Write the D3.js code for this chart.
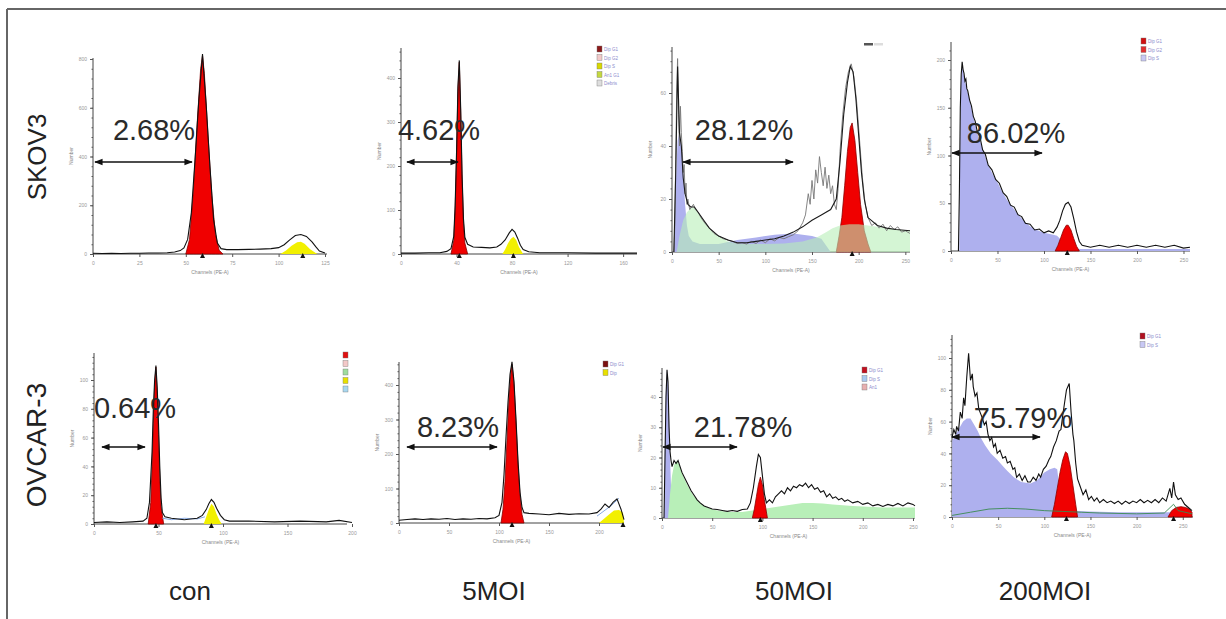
<!DOCTYPE html>
<html><head><meta charset="utf-8">
<script src="https://cdn.jsdelivr.net/npm/d3@7"></script>
<style>body{margin:0;background:#fff}svg{display:block}</style>
</head><body>
<script>
// ---------- labels ----------
const rowLabels = ["SKOV3", "OVCAR-3"];
const colLabels = ["con", "5MOI", "50MOI", "200MOI"];
const percents = ["2.68%", "4.62%", "28.12%", "86.02%", "0.64%", "8.23%", "21.78%", "75.79%"];

// ---------- tick values ----------
const xTicks1 = [0, 25, 50, 75, 100, 125];
const yTicks1 = [0, 200, 400, 600, 800];
const xTicks2 = [0, 40, 80, 120, 160];
const yTicks2 = [0, 100, 200, 300, 400];
const xTicks3 = [0, 50, 100, 150, 200, 250];
const yTicks3 = [0, 20, 40, 60];
const xTicks4 = [0, 50, 100, 150, 200, 250];
const yTicks4 = [0, 50, 100, 150, 200];
const xTicks5 = [0, 50, 100, 150, 200];
const yTicks5 = [0, 20, 40, 60, 80, 100];
const xTicks6 = [0, 50, 100, 150, 200];
const yTicks6 = [0, 100, 200, 300, 400];
const xTicks7 = [0, 50, 100, 150, 200, 250];
const yTicks7 = [0, 10, 20, 30, 40];
const xTicks8 = [0, 50, 100, 150, 200, 250];
const yTicks8 = [0, 20, 40, 60, 80, 100];

// ---------- histogram series [channel, count] ----------
// SKOV3 con
const p1Outline = [[0,3],[5,2],[10,3],[15,2],[20,3],[25,3],[30,4],[35,4],[40,5],[44,8],[47,14],[49,25],[51,60],[53,170],[55,390],[57,630],[59,820],[61,610],[63,360],[65,140],[67,45],[69,22],[72,18],[78,18],[84,19],[90,20],[96,22],[100,26],[103,38],[106,58],[109,76],[112,80],[115,72],[118,50],[120,30],[122,12],[125,4]];
const p1G1 = [[50,0],[52,60],[54,250],[56,520],[58,760],[59,815],[60,740],[62,480],[64,240],[66,80],[68,15],[70,0]];
const p1G2 = [[101,0],[104,14],[107,34],[110,48],[112,50],[114,42],[117,20],[120,4],[121,0]];
const p1Marks = [59, 113];
// SKOV3 5MOI
const p2Outline = [[0,2],[10,2],[20,3],[28,3],[33,6],[36,12],[38,40],[39,110],[40,230],[41,380],[42,440],[43,330],[44,180],[45,80],[46,38],[48,22],[52,16],[58,15],[64,14],[69,16],[72,22],[75,32],[78,48],[80,56],[82,50],[84,36],[86,20],[88,10],[92,5],[100,3],[120,3],[140,2],[170,2]];
const p2G1 = [[36,0],[38,30],[39,100],[40,220],[41,370],[42,436],[43,320],[44,170],[45,70],[46,25],[48,0]];
const p2G2 = [[73,0],[75,10],[77,24],[79,34],[81,39],[83,32],[85,16],[87,5],[88,0]];
const p2Marks = [42, 81];
// SKOV3 50MOI
const p3Raw = [[2,0],[3,10],[4,35],[5,60],[6,73],[7,52],[8,40],[9,55],[10,45],[11,38],[12,30],[13,33],[14,22],[15,26],[16,18],[17,20],[19,16],[21,17],[23,18],[25,16],[28,15],[31,13],[35,11],[40,9],[45,7],[50,6],[55,5],[60,4.5],[65,4],[70,3.2],[75,3.5],[80,3],[85,4],[90,3.2],[95,4.5],[100,3.5],[105,5],[110,4.2],[115,5.5],[120,5],[125,5.8],[130,6.5],[135,8],[140,11],[143,14],[146,22],[148,18],[150,27],[152,20],[154,31],[156,26],[158,36],[160,30],[162,25],[164,32],[166,24],[168,29],[170,22],[172,25],[174,18],[176,16],[178,24],[180,38],[183,52],[186,62],[189,68],[192,71],[195,66],[198,56],[201,42],[204,28],[207,18],[210,13],[214,10],[218,11],[222,9],[226,10.5],[230,8],[234,10],[238,8.5],[242,9.5],[246,7.5],[250,8],[255,7]];
const p3Fit = [[2,0],[4,30],[6,70],[8,45],[10,40],[12,28],[14,22],[17,18],[20,17],[24,17],[28,15],[34,12],[40,9],[50,6],[60,4.5],[70,3.5],[80,3.5],[90,4],[100,4.5],[110,5],[120,6],[130,7.5],[140,9.5],[150,12],[160,14],[170,16],[176,20],[180,34],[184,52],[188,64],[191,70],[194,68],[197,58],[200,44],[203,30],[206,20],[210,13],[220,10],[230,9],[240,8.5],[255,8]];
const p3Debris = [[2,0],[4,25],[6,42],[8,45],[10,40],[12,30],[14,18],[16,10],[18,6],[22,4],[30,3],[50,3],[70,4.5],[90,5.5],[110,6.5],[130,7],[150,6],[160,5],[170,0]];
const p3S = [[5,0],[8,6],[12,12],[16,15],[20,16.5],[24,17],[28,15],[34,12],[40,9],[50,6],[60,4],[70,3.2],[80,3],[100,3],[120,3.2],[140,4],[155,5.5],[165,7.5],[172,9],[180,10],[190,10.5],[200,10.5],[210,10],[220,9.5],[230,9],[240,8.5],[255,8]];
const p3G1 = [[176,0],[179,6],[182,13],[185,25],[188,38],[191,47],[193,48.7],[196,42],[199,30],[202,18],[206,8],[210,3],[213,0]];
const p3Marks = [193];
// SKOV3 200MOI
const p4Outline = [[8,0],[9,60],[10,150],[11,185],[12,198],[13,190],[14,186],[15,178],[16,180],[17,170],[18,168],[20,158],[22,152],[24,141],[26,136],[28,126],[31,120],[34,106],[37,101],[40,90],[44,85],[48,75],[52,71],[56,61],[60,57],[64,48],[68,46],[72,38],[76,36],[80,29],[85,28],[90,22],[95,23],[100,19],[105,21],[110,19],[114,25],[117,32],[120,42],[123,49],[126,51],[129,46],[132,34],[135,20],[138,10],[141,6],[150,4],[160,6],[170,4],[180,6],[190,4],[200,6],[210,4],[220,6],[230,4],[240,6],[250,3],[257,4]];
const p4Debris = [[9,0],[10,140],[11,180],[12,195],[13,188],[15,178],[17,170],[20,158],[24,140],[28,125],[31,116],[35,104],[40,90],[45,80],[50,72],[55,62],[60,54],[65,47],[70,41],[75,35],[80,30],[85,26],[90,23],[95,21],[100,19],[105,18],[110,17],[114,16],[118,12],[122,6],[126,3],[140,2],[160,2],[200,2],[257,2]];
const p4G1 = [[112,0],[115,6],[118,14],[121,22],[124,27],[126,27],[129,22],[132,13],[135,5],[138,0]];
const p4Marks = [125];
// OVCAR-3 con
const p5Outline = [[0,1],[10,1.5],[20,1],[30,1.5],[38,2],[41,4],[43,15],[45,50],[46,80],[47,100],[48,110],[49,95],[50,70],[51,40],[52,18],[53,8],[55,5],[60,4],[65,3.5],[70,3],[75,3.5],[80,4],[84,6],[87,10],[89,14],[91,17],[93,15],[95,11],[98,6],[101,3],[105,2],[120,2],[140,1.5],[160,2],[180,1.5],[190,2.5],[200,1]];
const p5G1 = [[42,0],[44,15],[45,40],[46,70],[47,95],[48,109],[49,90],[50,62],[51,32],[52,12],[54,0]];
const p5G2 = [[85,0],[87,5],[89,10],[91,14],[93,12],[95,7],[97,3],[99,0]];
const p5S = [[53,4],[60,3],[70,4],[80,3.5],[86,5]];
const p5Marks = [48, 91];
// OVCAR-3 5MOI
const p6Outline = [[0,8],[8,10],[16,12],[24,10],[32,12],[40,11],[48,13],[56,10],[64,12],[72,11],[80,13],[88,12],[96,15],[100,22],[103,60],[105,140],[107,250],[109,350],[111,430],[113,467],[115,410],[117,300],[119,180],[121,90],[123,45],[125,30],[130,28],[140,26],[150,24],[160,28],[170,25],[180,27],[190,26],[198,30],[202,40],[206,55],[210,45],[214,60],[218,70],[222,40],[225,10]];
const p6G1 = [[102,0],[104,40],[106,120],[108,240],[110,360],[112,440],[113,460],[115,400],[117,290],[119,170],[121,80],[123,25],[125,0]];
const p6G2 = [[200,0],[205,12],[210,25],[215,36],[220,38],[224,30],[225,0]];
const p6S = [[198,20],[205,35],[212,50],[220,72]];
const p6Marks = [113, 224];
// OVCAR-3 50MOI
const p7Outline = [[2,0],[3,20],[4,40],[5,49],[6,45],[7,30],[8,22],[9,19],[10,17],[12,19],[14,18],[16,19],[18,17],[20,15],[23,13],[26,11],[29,9],[32,7.5],[35,6],[38,5],[42,4],[46,3.5],[50,3],[55,2.8],[60,2.5],[65,2.2],[70,2.5],[75,2.2],[80,2.8],[85,3],[88,5],[91,10],[94,17],[96,21],[98,20],[100,14],[102,8],[104,5],[107,6],[110,5],[113,7],[116,8],[119,9],[122,8],[125,10],[128,9],[131,10.5],[134,10],[137,11],[140,10.5],[143,11.5],[146,10],[149,11],[152,9.5],[155,10],[158,8.5],[161,9],[164,7],[167,8],[170,6.5],[173,7],[176,6],[179,6.5],[182,5.5],[185,6],[190,5],[195,5.5],[200,4.5],[205,5],[210,4],[215,4.5],[220,3.8],[225,4.5],[230,4],[235,4.8],[240,4],[245,5],[250,4.5],[252,4]];
const p7Debris = [[2,0],[3,30],[4,45],[5,49],[6,44],[7,35],[8,20],[9,10],[10,4],[12,1],[14,0]];
const p7S = [[6,0],[8,8],[10,14],[12,17.5],[15,19],[18,17],[21,14],[25,11],[30,8],[35,6],[40,4.5],[45,3.5],[50,2.8],[60,2.2],[70,2],[80,2],[90,2.5],[100,3],[110,3.5],[120,4],[130,4.5],[140,5],[150,5],[160,4.8],[170,4.5],[180,4.2],[190,4],[200,3.8],[210,3.6],[220,3.5],[230,3.5],[240,3.5],[252,3.5]];
const p7G1 = [[90,0],[92,3],[94,7],[96,11],[98,13.5],[100,11],[102,6],[104,2],[105,0]];
const p7Marks = [98];
// OVCAR-3 200MOI
const p8Outline = [[0,50],[2,55],[4,52],[5,57],[7,54],[9,66],[11,62],[12.6,75],[14,70],[16,88],[18,103],[20,86],[22,90],[23,82],[25,76],[27,78],[29,68],[31,65],[33,62],[35,58],[37,60],[39,52],[41,48],[43,50],[45,44],[47,46],[49,40],[52,42],[55,37],[58,38],[60,34],[63,35],[66,30],[68,31],[70,25],[73,27],[76,23],[79,26],[82,22],[85,22],[88,25],[91,23],[94,27],[96,25],[99,30],[102,32],[105,36],[107,38],[110,44],[113,48],[116,54],[118,55],[120,64],[122,72],[124,80],[127,84],[129,66],[131,52],[132,48],[134,34],[136,24],[139,19],[142,14],[145,17],[148,11],[151,13],[154,10],[157,12],[160,9],[164,11],[168,9],[172,10],[176,8.5],[180,10],[184,8],[188,10],[192,8.5],[196,10],[200,9],[204,11],[208,9],[212,10.5],[216,9],[220,11],[224,9],[228,12],[232,10],[236,18],[238,12],[240,22],[242,14],[245,11],[248,12],[252,8],[256,6],[260,4]];
const p8Debris = [[0,0],[0.3,48],[4,52],[8,56],[12,60],[16,62],[20,62],[24,58],[28,54],[31,50],[36,45],[42,40],[49,36],[55,32],[60,29],[67,25],[75,22],[85,21],[92,23],[100,28],[106,30],[111,31],[114,30],[116,20],[119,9],[122,5],[130,4],[150,3.5],[180,3],[210,3],[236,3],[240,0]];
const p8G1 = [[108,0],[111,8],[114,18],[117,28],[120,36],[123,41],[125,40],[128,32],[131,20],[134,8],[136,0]];
const p8G2 = [[234,0],[238,4],[243,6],[248,6.5],[253,6],[257,5],[260,3],[260,0]];
const p8S = [[0,1],[20,3],[40,5],[60,5.5],[80,5],[100,4],[120,3.5],[140,3],[160,2.5],[200,2],[230,2.5],[240,8],[245,4],[260,2]];
const p8Marks = [124, 240];

// ---------- colours ----------
const C = {red:"#f00000", redEdge:"#8b0000", yellow:"#f2f000", blue:"#aeb0ee", green:"#b8efb8"};
const lineColor = {line:"#111", raw:"#777", fit:"#1a1a1a", blueLine:"#7aa0e0", greenLine:"#3a8a50"};

// ---------- layout (pixels) ----------
const panels = [
 {xr:[93,325], yr:[254,59], xd:[0,125], yd:[0,800], xt:xTicks1, yt:yTicks1, yTop:58, xEnd:327,
  fills:[[p1G1,"red"],[p1G2,"yellow"]], lines:[[p1Outline,"line"]], marks:p1Marks,
  arrow:[95,192,162], txt:[154,140], legend:null},
 {xr:[401,637], yr:[254,78], xd:[0,170], yd:[0,400], xt:xTicks2, yt:yTicks2, yTop:48, xEnd:637,
  fills:[[p2G1,"red"],[p2G2,"yellow"]], lines:[[p2Outline,"line"]], marks:p2Marks,
  arrow:[407,458,162], txt:[439,140], legend:{x:597,y:46,c:["#8b1a1a","#f1c9c9","#d8d800","#c4d840","#dedede"],t:["Dip G1","Dip G2","Dip S","An1 G1","Debris"]}},
 {xr:[672,910], yr:[252,93], xd:[0,255], yd:[0,60], xt:xTicks3, yt:yTicks3, yTop:47, xEnd:910,
  fills:[[p3Debris,"blue"],[p3G1,"red"],[p3S,"green",0.6]], lines:[[p3Raw,"raw"],[p3Fit,"fit"]], marks:p3Marks,
  arrow:[683,793,162], txt:[744,140], legend:{x:864,y:43,c:["#555","#ddd"],t:["",""],row:true}},
 {xr:[951,1190], yr:[251,60], xd:[0,257], yd:[0,200], xt:xTicks4, yt:yTicks4, yTop:42, xEnd:1190,
  fills:[[p4Debris,"blue"],[p4G1,"red"]], lines:[[p4Outline,"line"]], marks:p4Marks,
  arrow:[952,1042,153], txt:[1016,143], legend:{x:1141,y:38,c:["#d01010","#e03030","#c8c8f4"],t:["Dip G1","Dip G2","Dip S"]}},
 {xr:[94,352], yr:[524,380], xd:[0,200], yd:[0,100], xt:xTicks5, yt:yTicks5, yTop:353, xEnd:347,
  fills:[[p5G1,"red"],[p5G2,"yellow"]], lines:[[p5S,"blueLine"],[p5Outline,"line"]], marks:p5Marks,
  arrow:[102,145,447], txt:[135,418], legend:{x:343,y:352,c:["#e01010","#f3c8c8","#9fdc9f","#e8e000","#a8d8f0"],t:["","","","",""]}},
 {xr:[399,624], yr:[523,385], xd:[0,225], yd:[0,400], xt:xTicks6, yt:yTicks6, yTop:362, xEnd:624,
  fills:[[p6G1,"red"],[p6G2,"yellow"]], lines:[[p6S,"blueLine"],[p6Outline,"line"]], marks:p6Marks,
  arrow:[407,497,447], txt:[458,437], legend:{x:603,y:361,c:["#7a1010","#e8e000"],t:["Dip G1","Dip"]}},
 {xr:[662,915], yr:[518,397], xd:[0,252], yd:[0,40], xt:xTicks7, yt:yTicks7, yTop:368, xEnd:915,
  fills:[[p7Debris,"blue"],[p7S,"green"],[p7G1,"red"]], lines:[[p7Outline,"line"]], marks:p7Marks,
  arrow:[663,737,447], txt:[743,437], legend:{x:862,y:367,c:["#c01020","#a8c8f0","#e8b0b0"],t:["Dip G1","Dip S","An1"]}},
 {xr:[952,1192], yr:[517,358], xd:[0,260], yd:[0,100], xt:xTicks8, yt:yTicks8, yTop:335, xEnd:1193,
  fills:[[p8Debris,"blue"],[p8G1,"red"],[p8G2,"red"]], lines:[[p8S,"greenLine"],[p8Outline,"line"]], marks:p8Marks,
  arrow:[952,1040,437], txt:[1023,428], legend:{x:1140,y:333,c:["#b01020","#c8c8f4"],t:["Dip G1","Dip S"]}}
];
const colX = [190, 494, 794, 1045];
const rowY = [157, 445];

const W = 1226, H = 619;
const svg = d3.select("body").append("svg").attr("width", W).attr("height", H)
  .style("font-family", "'Liberation Sans', Arial, sans-serif");

const defs = svg.append("defs");
defs.append("marker").attr("id","ah").attr("viewBox","0 0 10 10").attr("refX",9).attr("refY",5)
  .attr("markerWidth",6).attr("markerHeight",6).attr("orient","auto-start-reverse")
  .append("path").attr("d","M0,1 L10,5 L0,9 Z").attr("fill","#111");

// frame
svg.append("line").attr("x1",7).attr("x2",W).attr("y1",9).attr("y2",9).attr("stroke","#666").attr("stroke-width",2);
svg.append("line").attr("x1",7).attr("x2",7).attr("y1",9).attr("y2",H).attr("stroke","#666").attr("stroke-width",2);

panels.forEach((p, i) => {
  const x = d3.scaleLinear().domain(p.xd).range(p.xr);
  const y = d3.scaleLinear().domain(p.yd).range(p.yr);
  const g = svg.append("g");
  const area = d3.area().x(d => x(d[0])).y0(y(0)).y1(d => y(d[1]));
  const line = d3.line().x(d => x(d[0])).y(d => y(d[1]));

  // axes (drawn first, data on top)
  const base = p.yr[0];
  const xa = g.append("g").attr("transform", `translate(0,${base})`)
    .call(d3.axisBottom(x).tickValues(p.xt).tickSize(3).tickSizeOuter(0).tickPadding(4));
  xa.select(".domain").attr("d", `M${p.xr[0]},0H${p.xEnd}`);
  const ya = g.append("g").attr("transform", `translate(${p.xr[0]},0)`)
    .call(d3.axisLeft(y).tickValues(p.yt).tickSize(3).tickSizeOuter(0).tickPadding(3));
  ya.select(".domain").attr("d", `M0,${base}V${p.yTop}`);
  const step = (p.yt[1] - p.yt[0]) / 5;
  const minor = d3.range(p.yd[0], y.invert(p.yTop), step);
  g.append("g").attr("transform", `translate(${p.xr[0]},0)`)
    .call(d3.axisLeft(y).tickValues(minor).tickSize(1.5).tickFormat(""))
    .select(".domain").remove();
  [xa, ya].forEach(a => {
    a.selectAll("text").attr("font-size", 5).attr("fill", "#999");
    a.select(".domain").attr("stroke", "#444").attr("stroke-width", 1);
  });
  g.selectAll(".tick line").attr("stroke", "#555");

  p.fills.forEach(([data, col, op]) => {
    g.append("path").datum(data).attr("d", area)
      .attr("fill", C[col]).attr("fill-opacity", op || 1)
      .attr("stroke", col === "red" ? C.redEdge : "none").attr("stroke-width", col === "red" ? 0.8 : 0);
  });
  p.lines.forEach(([data, col]) => {
    g.append("path").datum(data).attr("d", line).attr("fill", "none")
      .attr("stroke", lineColor[col]).attr("stroke-width", col === "line" || col === "fit" ? 1.1 : 0.9);
  });

  // axis titles
  g.append("text").attr("x", (p.xr[0] + p.xEnd) / 2).attr("y", base + 20).attr("text-anchor", "middle")
    .attr("font-size", 5).attr("fill", "#888").text("Channels (PE-A)");
  g.append("text").attr("transform", `translate(${p.xr[0] - 20},${(base + p.yTop) / 2}) rotate(-90)`)
    .attr("text-anchor", "middle").attr("font-size", 5).attr("fill", "#888").text("Number");

  // peak markers
  p.marks.forEach(m => {
    const mx = x(m);
    g.append("path").attr("d", `M${mx - 2.5},${base + 4}L${mx + 2.5},${base + 4}L${mx},${base - 1}Z`).attr("fill", "#111");
  });

  // legend
  if (p.legend) {
    const L = p.legend;
    L.c.forEach((c, k) => {
      const lx = L.row ? L.x + k * 10 : L.x;
      const ly = L.row ? L.y : L.y + k * 8.5;
      g.append("rect").attr("x", lx).attr("y", ly).attr("width", L.row ? 9 : 5).attr("height", L.row ? 2.5 : 6)
        .attr("fill", c).attr("stroke", L.row ? "none" : "#777").attr("stroke-width", 0.4);
      if (L.t[k]) g.append("text").attr("x", lx + 7).attr("y", ly + 5).attr("font-size", 4.5)
        .attr("fill", "#8a8acc").text(L.t[k]);
    });
  }

  // arrow + percentage
  g.append("line").attr("x1", p.arrow[0]).attr("x2", p.arrow[1]).attr("y1", p.arrow[2]).attr("y2", p.arrow[2])
    .attr("stroke", "#111").attr("stroke-width", 1.4)
    .attr("marker-start", "url(#ah)").attr("marker-end", "url(#ah)");
  g.append("text").attr("x", p.txt[0]).attr("y", p.txt[1]).attr("text-anchor", "middle")
    .attr("font-size", 29).attr("fill", "#2a2a2a").text(percents[i]);
});

// row labels
rowLabels.forEach((t, r) => {
  svg.append("text").attr("transform", `translate(46,${rowY[r]}) rotate(-90)`).attr("text-anchor", "middle")
    .attr("font-size", r === 1 ? 28 : 26).attr("fill", "#222").text(t);
});
// column labels
colLabels.forEach((t, c) => {
  svg.append("text").attr("x", colX[c]).attr("y", 600).attr("text-anchor", "middle")
    .attr("font-size", 26).attr("fill", "#222").text(t);
});
</script>
</body></html>
